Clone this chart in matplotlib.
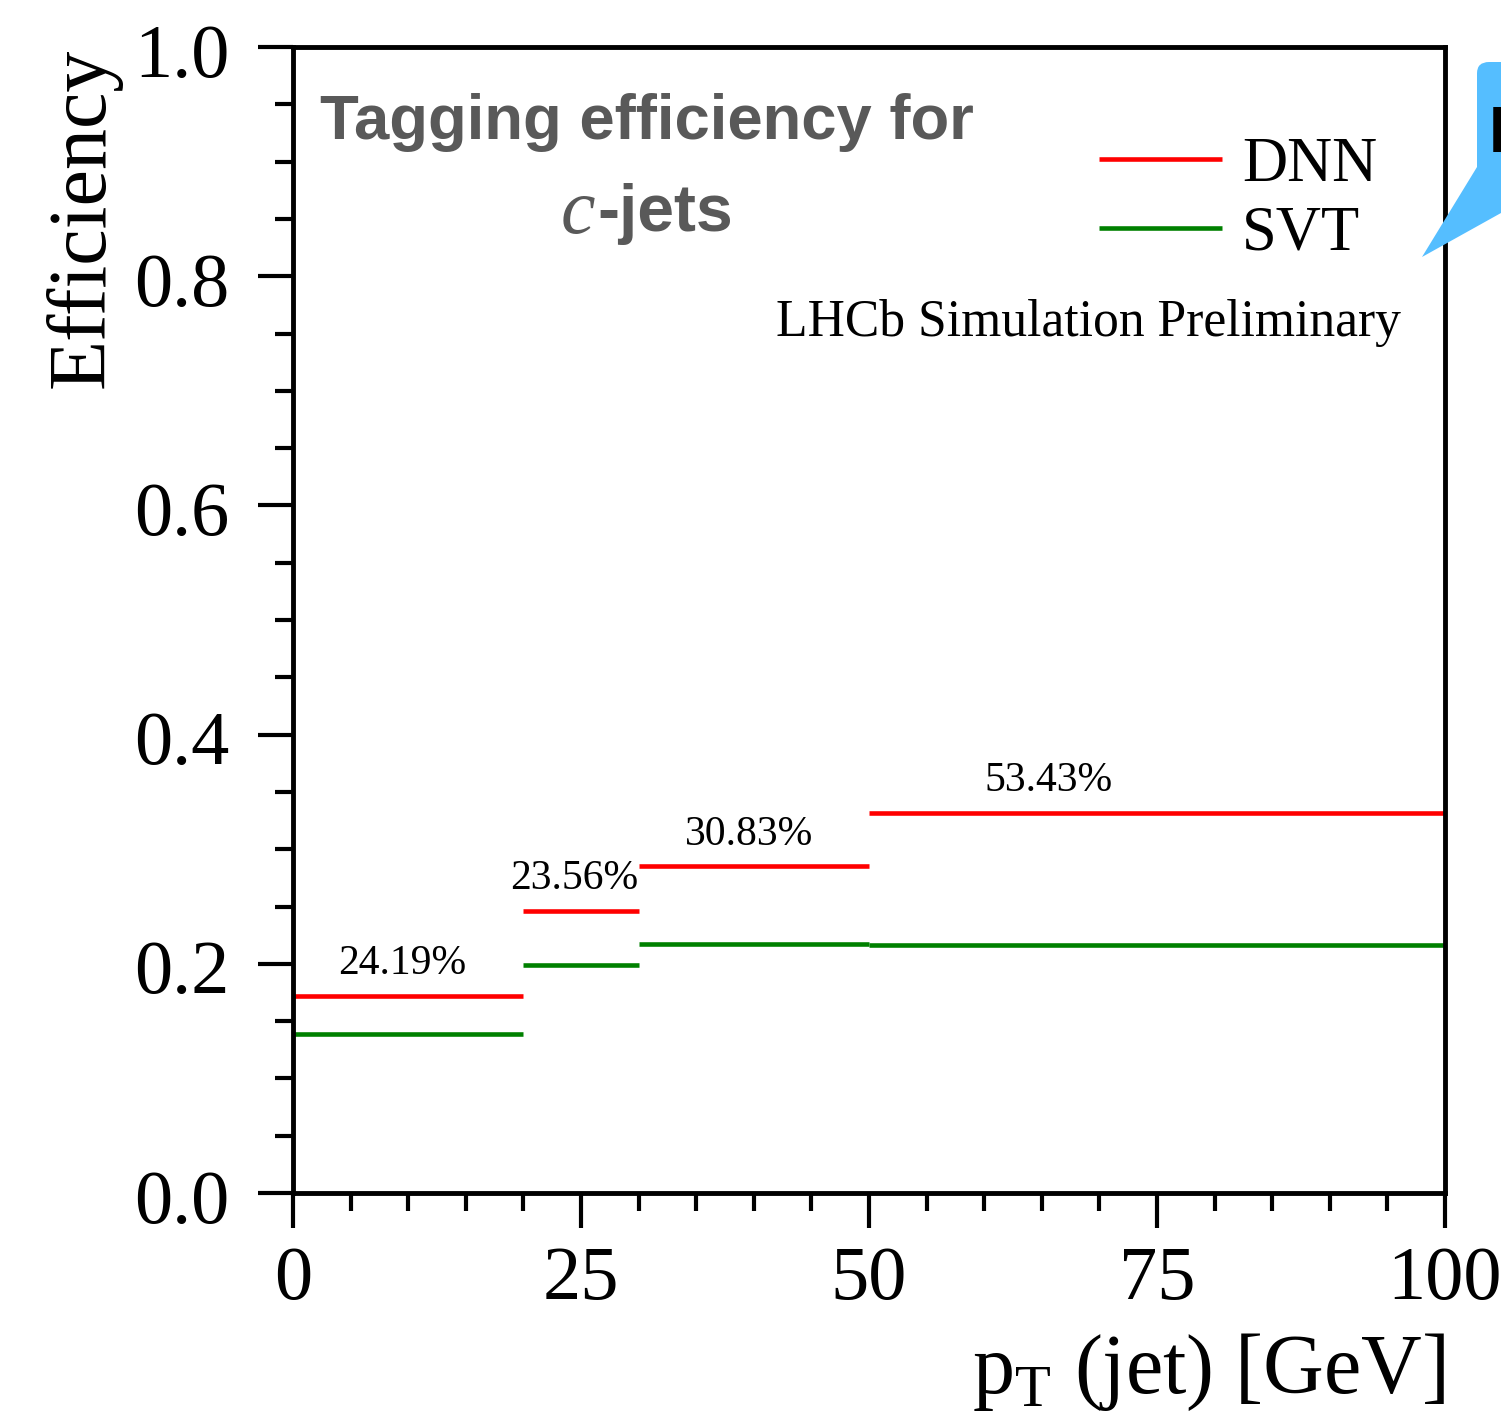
import matplotlib
matplotlib.use('Agg')
import matplotlib.pyplot as plt
from matplotlib.patches import Polygon, FancyBboxPatch
from matplotlib.ticker import MultipleLocator
from matplotlib.transforms import ScaledTranslation

edges = [0, 20, 30, 50, 100]
dnn = [0.172, 0.246, 0.285, 0.332]
svt = [0.139, 0.199, 0.217, 0.216]
gain_labels = ['24.19%', '23.56%', '30.83%', '53.43%']
label_x = [9.5, 24.4, 39.55, 65.55]
label_y = [0.1998, 0.274, 0.3124, 0.3594]
xticks = [0, 25, 50, 75, 100]
yticks = [0.0, 0.2, 0.4, 0.6, 0.8, 1.0]

plt.rcParams['font.family'] = ['Liberation Serif', 'DejaVu Serif']
W, H = 1501, 1415
fig = plt.figure(figsize=(W / 100, H / 100), dpi=100)
ax = fig.add_axes([293 / W, 1 - 1193 / H, (1445 - 293) / W, (1193 - 47) / H])
ax.set_xlim(0, 100)
ax.set_ylim(0, 1)

# bins
for i in range(len(dnn)):
    ax.plot(edges[i:i + 2], [dnn[i], dnn[i]], color='red', lw=3.3, solid_capstyle='butt',
            label='DNN' if i == 0 else None)
    ax.plot(edges[i:i + 2], [svt[i], svt[i]], color='green', lw=3.3, solid_capstyle='butt',
            label='SVT' if i == 0 else None)
    ax.text(label_x[i], label_y[i], gain_labels[i], fontsize=30, ha='center', va='center')

ax.set_xticks(xticks)
ax.set_yticks(yticks)
ax.set_xticklabels(['0', '25', '50', '75', '100'])
ax.set_yticklabels(['%.1f' % y for y in yticks])
ax.xaxis.set_minor_locator(MultipleLocator(5))
ax.yaxis.set_minor_locator(MultipleLocator(0.05))
ax.tick_params(axis='both', which='major', length=25.5, width=3, labelsize=55)
ax.tick_params(axis='both', which='minor', length=13, width=3)
ax.tick_params(axis='y', which='major', pad=20)
ax.tick_params(axis='x', which='major', pad=13)
for s in ax.spines.values():
    s.set_linewidth(3.5)

# y labels sit a little lower than centred
down = ScaledTranslation(0, -3 / 100, fig.dpi_scale_trans)
for lbl in ax.get_yticklabels():
    lbl.set_transform(lbl.get_transform() + down)

fig.text(122 / W, 1 - 218 / H, 'Efficiency', fontsize=59, rotation=90, ha='right', va='center')
fig.text(1445 / W, 1 - 1372 / H, 'p$_{\\mathregular{T}}$ (jet) [GeV]', fontsize=60.5, ha='right', va='center')

ax.legend(loc='upper left', bbox_to_anchor=((1099 - 293) / (1445 - 293), 1 - (137 - 47) / (1193 - 47)),
          frameon=False, fontsize=45, handlelength=1.97, labelspacing=0.17, handletextpad=0.32,
          borderpad=0, borderaxespad=0)

fig.text(320 / W, 1 - 123 / H, 'Tagging efficiency for', fontsize=45.6, color='#595959',
         family='Liberation Sans', weight='bold', ha='left', va='center')
fig.text(561 / W, 1 - 214 / H, 'c', fontsize=56, color='#595959', style='italic', ha='left', va='center')
fig.text(597 / W, 1 - 214 / H, '-jets', fontsize=47.5, color='#595959',
         family='Liberation Sans', weight='bold', ha='left', va='center')
fig.text(776 / W, 1 - 323 / H, 'LHCb Simulation Preliminary', fontsize=37.2, ha='left', va='center')

# callout bubble cut by the right edge
bubble = FancyBboxPatch((1477 / W, 1 - 200 / H), 60 / W, 138 / H, boxstyle='round,pad=0,rounding_size=0.008',
                        transform=fig.transFigure, fc='#55BEFF', ec='none', clip_on=False)
fig.add_artist(bubble)
fig.add_artist(Polygon([(1477 / W, 1 - 167 / H), (1501 / W, 1 - 167 / H), (1501 / W, 1 - 213 / H), (1422 / W, 1 - 257 / H)],
                       transform=fig.transFigure, fc='#55BEFF', ec='none'))
fig.text(1489 / W, 1 - 135 / H, 'L', fontsize=46, family='Liberation Sans', weight='bold', ha='left', va='center')

fig.savefig('out.png', dpi=100)
